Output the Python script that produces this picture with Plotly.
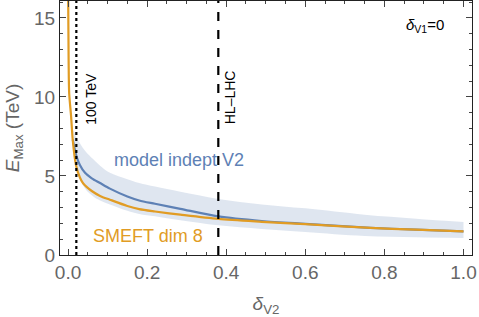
import plotly.graph_objects as go

# SMEFT dim 8 curve (orange)
smeft_x = [0.0003, 0.0015, 0.003, 0.0076, 0.012, 0.020, 0.030, 0.038, 0.060, 0.081, 0.106, 0.15, 0.18, 0.22, 0.284, 0.38, 0.49, 0.60, 0.765, 0.88, 1.0]
smeft_y = [16.5, 12.3, 10.2, 8.83, 7.26, 5.7, 4.9, 4.54, 4.05, 3.74, 3.5, 3.1, 2.9, 2.75, 2.55, 2.28, 2.1, 1.95, 1.71, 1.6, 1.5]

# model independent V2 curve (blue)
indep_x = [0.012, 0.016, 0.022, 0.030, 0.043, 0.060, 0.081, 0.106, 0.15, 0.18, 0.22, 0.284, 0.38, 0.49, 0.60, 0.765, 0.88, 1.0]
indep_y = [7.3, 6.8, 6.2, 5.7, 5.2, 4.85, 4.55, 4.2, 3.7, 3.45, 3.24, 2.92, 2.44, 2.15, 1.97, 1.72, 1.6, 1.5]

# uncertainty band
band_x = [0.014, 0.022, 0.043, 0.064, 0.081, 0.106, 0.15, 0.18, 0.22, 0.284, 0.38, 0.49, 0.60, 0.75, 0.88, 1.0]
band_hi = [7.9, 7.4, 6.6, 6.05, 5.65, 5.2, 4.8, 4.56, 4.33, 4.0, 3.55, 3.2, 2.95, 2.55, 2.3, 2.09]
band_lo = [7.2, 5.5, 4.2, 3.7, 3.45, 3.2, 2.8, 2.6, 2.45, 2.2, 1.88, 1.65, 1.45, 1.2, 1.13, 1.08]

# reference lines
vline_x = [0.021, 0.38]
vline_labels = ["100 TeV", "HL\u2013LHC"]
vline_dash = ["dot", "dash"]

x_ticks = [0.0, 0.2, 0.4, 0.6, 0.8, 1.0]
x_ticklabels = ["0.0", "0.2", "0.4", "0.6", "0.8", "1.0"]
y_ticks = [0, 5, 10, 15]
y_ticklabels = ["0", "5", "10", "15"]

BLUE = "#5E81B5"
ORANGE = "#E19C24"
BAND = "rgba(94,129,181,0.2)"
FONT = "Liberation Sans, Arial, sans-serif"

fig = go.Figure()

# band
fig.add_trace(go.Scatter(x=band_x, y=band_lo, mode="lines", line=dict(width=0, shape="spline"),
                         showlegend=False, hoverinfo="skip"))
fig.add_trace(go.Scatter(x=band_x, y=band_hi, mode="lines", line=dict(width=0, shape="spline"),
                         fill="tonexty", fillcolor=BAND, showlegend=False, hoverinfo="skip"))

fig.add_trace(go.Scatter(x=indep_x, y=indep_y, mode="lines",
                         line=dict(color=BLUE, width=2.2, shape="spline", smoothing=0.8), showlegend=False))
fig.add_trace(go.Scatter(x=smeft_x, y=smeft_y, mode="lines",
                         line=dict(color=ORANGE, width=2.2, shape="spline", smoothing=0.8), showlegend=False))

for xv, lab, dash in zip(vline_x, vline_labels, vline_dash):
    fig.add_trace(go.Scatter(x=[xv, xv], y=[0, 16.07], mode="lines",
                             line=dict(color="black", width=2.2, dash=dash), showlegend=False))

fig.add_annotation(x=vline_x[0], y=9.9, xref="x", yref="y", text=vline_labels[0], textangle=-90,
                   showarrow=False, xshift=14, font=dict(family=FONT, size=14, color="black"))
fig.add_annotation(x=vline_x[1], y=10.0, xref="x", yref="y", text=vline_labels[1], textangle=-90,
                   showarrow=False, xshift=12, font=dict(family=FONT, size=14, color="black"))

fig.add_annotation(x=0.903, y=14.5, xref="x", yref="y", text="<i>δ</i><sub>V1</sub>=0",
                   showarrow=False, font=dict(family=FONT, size=15, color="black"))
fig.add_annotation(x=0.112, y=5.98, xref="x", yref="y", text="model indept V2", xanchor="left",
                   showarrow=False, font=dict(family=FONT, size=18, color=BLUE))
fig.add_annotation(x=0.057, y=1.2, xref="x", yref="y", text="SMEFT dim 8", xanchor="left",
                   showarrow=False, font=dict(family=FONT, size=18, color=ORANGE))

axis_common = dict(showline=True, linecolor="#222", linewidth=1.2, mirror="allticks",
                   ticks="inside", ticklen=6, tickcolor="#444", showgrid=False, zeroline=False,
                   automargin=False,
                   tickfont=dict(family=FONT, size=19, color="#666"))

fig.update_xaxes(range=[-0.0203, 1.0215], tickvals=x_ticks, ticktext=x_ticklabels,
                 minor=dict(dtick=0.05, ticks="inside", ticklen=3, tickcolor="#444", tick0=0),
                 title=dict(text="<i>δ</i><sub>V2</sub>", font=dict(family=FONT, size=19, color="#666"), standoff=16),
                 **axis_common)
fig.update_yaxes(range=[0, 16.07], tickvals=y_ticks, ticktext=y_ticklabels,
                 minor=dict(dtick=1, ticks="inside", ticklen=3, tickcolor="#444", tick0=0),
                 title=dict(text="<i>E</i><sub>Max</sub> (TeV)", font=dict(family=FONT, size=19, color="#666"), standoff=9),
                 **axis_common)

fig.update_layout(width=479, height=317, margin=dict(l=60, r=7, t=1, b=62),
                  plot_bgcolor="white", paper_bgcolor="white")

fig.write_html("out.html", config={"displayModeBar": False},
               post_script="document.body.style.margin='0';")
